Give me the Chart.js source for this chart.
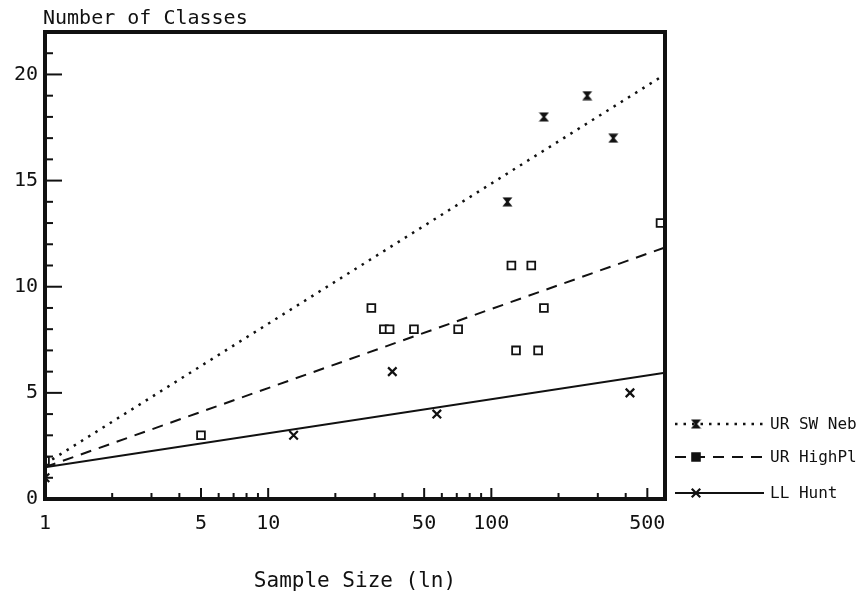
<!DOCTYPE html>
<html>
<head>
<meta charset="utf-8">
<script src="https://cdn.jsdelivr.net/npm/chart.js@4/dist/chart.umd.min.js"></script>
<style>
  html, body { margin: 0; padding: 0; background: #fff; }
  #wrap { width: 859px; height: 596px; position: relative; }
</style>
</head>
<body>
<div id="wrap"><canvas id="chart"></canvas></div>
<script>
// values
const xTickValues = [1, 5, 10, 50, 100, 500];
const yTickValues = [0, 5, 10, 15, 20];
const seriesNames = ['UR SW Neb', 'UR HighPl', 'LL Hunt'];

const swNebSize = [118, 172, 269, 352];
const swNebClasses = [14, 18, 19, 17];

const highPlSize = [1, 5, 29, 33, 35, 45, 71, 123, 129, 151, 162, 172, 573];
const highPlClasses = [1.8, 3, 9, 8, 8, 8, 8, 11, 7, 11, 7, 9, 13];

const huntSize = [1, 13, 36, 57, 418];
const huntClasses = [1, 3, 6, 4, 5];

// fitted lines (ends at the axis limits)
const fitSize = [1, 600];
const swNebFit = [1.65, 20];
const highPlFit = [1.5, 11.85];
const huntFit = [1.5, 5.95];

const ink = '#111';
const toPts = (xs, ys) => xs.map((x, i) => ({ x: x, y: ys[i] }));

// hourglass marker for SW Neb
function bowtie() {
  const c = document.createElement('canvas');
  c.width = 11; c.height = 10;
  const g = c.getContext('2d');
  g.fillStyle = ink;
  g.beginPath();
  g.moveTo(0.5, 0.5); g.lineTo(10.5, 0.5); g.lineTo(6.8, 5); g.lineTo(10.5, 9.5);
  g.lineTo(0.5, 9.5); g.lineTo(4.2, 5); g.closePath();
  g.fill();
  return c;
}
const bowtieImg = bowtie();

Chart.defaults.font.family = '"DejaVu Sans Mono", "Liberation Mono", monospace';
Chart.defaults.color = ink;

const frameAndTicks = {
  id: 'frameAndTicks',
  afterDraw(chart) {
    const { ctx, chartArea: a, scales } = chart;
    ctx.save();
    ctx.strokeStyle = ink;
    ctx.lineWidth = 2;
    // y ticks, inward
    for (let v = 1; v <= 21; v++) {
      const y = scales.y.getPixelForValue(v);
      const len = v % 5 === 0 ? 17 : 8;
      ctx.beginPath(); ctx.moveTo(a.left, y); ctx.lineTo(a.left + len, y); ctx.stroke();
    }
    // x ticks, inward
    const minors = [2, 3, 4, 6, 7, 8, 9, 20, 30, 40, 60, 70, 80, 90, 200, 300, 400];
    const majors = [5, 10, 50, 100, 500];
    minors.forEach(v => {
      const x = scales.x.getPixelForValue(v);
      ctx.beginPath(); ctx.moveTo(x, a.bottom); ctx.lineTo(x, a.bottom - 6); ctx.stroke();
    });
    majors.forEach(v => {
      const x = scales.x.getPixelForValue(v);
      ctx.beginPath(); ctx.moveTo(x, a.bottom); ctx.lineTo(x, a.bottom - 11); ctx.stroke();
    });
    // heavy frame
    ctx.lineWidth = 4;
    ctx.strokeRect(a.left, a.top, a.right - a.left, a.bottom - a.top);

    // y axis title at top left
    ctx.fillStyle = ink;
    ctx.font = '20px "DejaVu Sans Mono"';
    ctx.textBaseline = 'alphabetic';
    ctx.textAlign = 'left';
    ctx.fillText('Number of Classes', a.left - 2, 24);

    // legend
    const rows = [424, 457, 493];
    ctx.font = '16px "DejaVu Sans Mono"';
    ctx.textBaseline = 'middle';
    [3, 4, 5].forEach((di, i) => {
      const line = chart.data.datasets[di];
      const pts = chart.data.datasets[i];
      const y = rows[i];
      ctx.save();
      ctx.strokeStyle = ink;
      ctx.lineWidth = line.borderWidth;
      ctx.setLineDash(line.borderDash || []);
      ctx.beginPath(); ctx.moveTo(675, y); ctx.lineTo(764, y); ctx.stroke();
      ctx.restore();
      ctx.save();
      ctx.strokeStyle = ink;
      ctx.fillStyle = ink;
      ctx.lineWidth = pts.pointBorderWidth;
      Chart.helpers.drawPoint(ctx, {
        pointStyle: pts.pointStyle, radius: pts.pointRadius,
        borderWidth: pts.pointBorderWidth, rotation: 0
      }, 696, y);
      ctx.restore();
      ctx.fillText(seriesNames[i], 770, y + 1);
    });
    ctx.restore();
  }
};

new Chart(document.getElementById('chart'), {
  type: 'scatter',
  data: {
    datasets: [
      {
        label: seriesNames[0], data: toPts(swNebSize, swNebClasses),
        pointStyle: bowtieImg, pointRadius: 5, pointBorderWidth: 1,
        borderColor: ink, backgroundColor: ink
      },
      {
        label: seriesNames[1], data: toPts(highPlSize, highPlClasses),
        pointStyle: 'rect', pointRadius: 5.5, pointBorderWidth: 1.8,
        borderColor: ink, backgroundColor: '#fff'
      },
      {
        label: seriesNames[2], data: toPts(huntSize, huntClasses),
        pointStyle: 'crossRot', pointRadius: 6, pointBorderWidth: 2.2,
        borderColor: ink, backgroundColor: ink
      },
      {
        label: seriesNames[0] + ' fit', data: toPts(fitSize, swNebFit),
        showLine: true, pointRadius: 0, borderColor: ink,
        borderWidth: 2.5, borderDash: [2.5, 6]
      },
      {
        label: seriesNames[1] + ' fit', data: toPts(fitSize, highPlFit),
        showLine: true, pointRadius: 0, borderColor: ink,
        borderWidth: 2, borderDash: [11, 8]
      },
      {
        label: seriesNames[2] + ' fit', data: toPts(fitSize, huntFit),
        showLine: true, pointRadius: 0, borderColor: ink,
        borderWidth: 2
      }
    ]
  },
  options: {
    responsive: true,
    maintainAspectRatio: false,
    animation: false,
    layout: { padding: { left: 0, right: 194, top: 32, bottom: 0 } },
    plugins: { legend: { display: false }, tooltip: { enabled: false } },
    scales: {
      x: {
        type: 'logarithmic', min: 1, max: 600,
        grid: { display: false, drawTicks: false },
        border: { display: false },
        afterBuildTicks: s => { s.ticks = xTickValues.map(v => ({ value: v })); },
        afterFit: s => { s.height = 97; },
        ticks: {
          font: { size: 20 }, padding: 13, maxRotation: 0, autoSkip: false,
          callback: v => String(v)
        },
        title: {
          display: true, text: 'Sample Size (ln)',
          font: { size: 21 }, padding: { top: 0, bottom: 2 }
        }
      },
      y: {
        min: 0, max: 22,
        grid: { display: false, drawTicks: false },
        border: { display: false },
        afterBuildTicks: s => { s.ticks = yTickValues.map(v => ({ value: v })); },
        afterFit: s => { s.width = 45; },
        ticks: { font: { size: 20 }, padding: 7 }
      }
    }
  },
  plugins: [frameAndTicks]
});
</script>
</body>
</html>
